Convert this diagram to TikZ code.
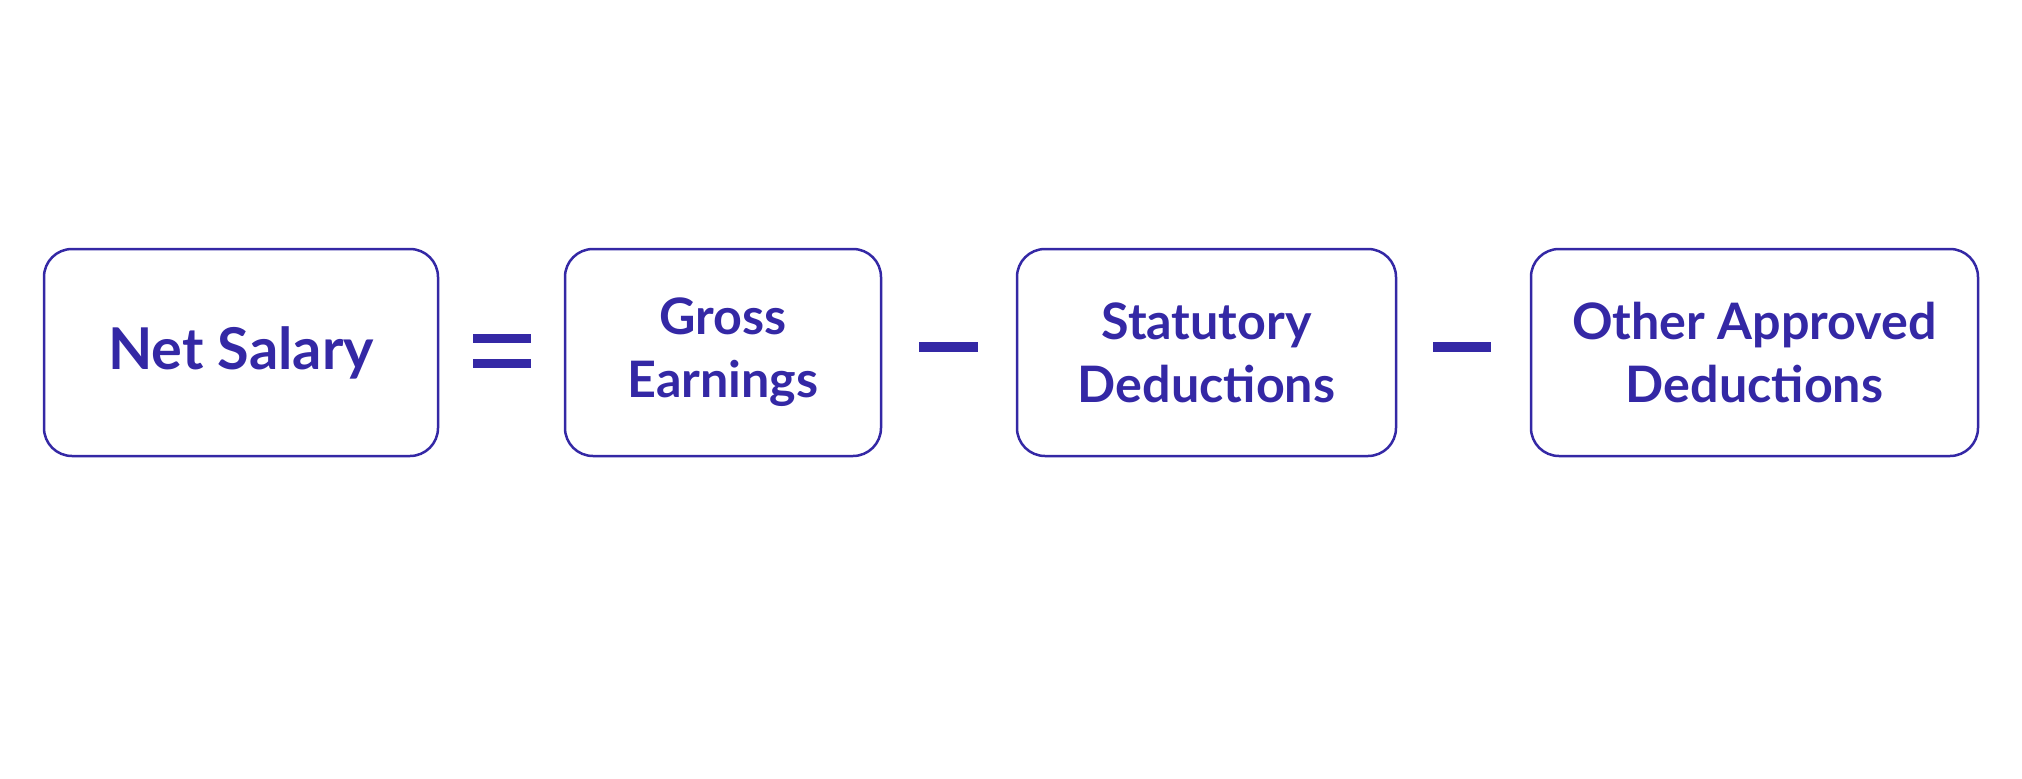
\documentclass[tikz,border=0pt]{standalone}
\usepackage{fontspec}
\setmainfont{Lato}
\usetikzlibrary{positioning}
\definecolor{salaryblue}{RGB}{52,40,165}
\tikzset{
  termbox/.style={draw=salaryblue, line width=0.25mm, rounded corners=0.28cm,
    minimum height=2.07cm, align=center, text=salaryblue, inner sep=0pt},
  bigterm/.style={font=\fontsize{16.4}{20}\selectfont\bfseries},
  smallterm/.style={font=\fontsize{14.3}{18}\selectfont\bfseries},
  opsign/.style={line width=#1, salaryblue}
}
\begin{document}
\begin{tikzpicture}
			%%%%% START %%%%%
			\useasboundingbox (0, 0) rectangle (20.22, 7.78);
			
			\node[termbox, bigterm, minimum width=3.94cm] (net) at (2.41, 4.255) {Net Salary};
			\node[termbox, smallterm, minimum width=3.16cm] (gross) at (7.23, 4.255) {Gross\\Earnings};
			\node[termbox, smallterm, minimum width=3.79cm] (stat) at (12.065, 4.255) {Statutory\\Deductions};
			\node[termbox, smallterm, minimum width=4.47cm] (other) at (17.545, 4.255) {Other Approved\\Deductions};
			
			% equals
			\draw[opsign=0.9mm] (4.73, 4.395) -- (5.31, 4.395);
			\draw[opsign=0.9mm] (4.73, 4.15) -- (5.31, 4.15);
			
			% minus
			\draw[opsign=1mm] (9.19, 4.31) -- (9.78, 4.31);
			\draw[opsign=1mm] (14.33, 4.31) -- (14.91, 4.31);
			
			%%%%% END %%%%%
		\end{tikzpicture}
\end{document}
